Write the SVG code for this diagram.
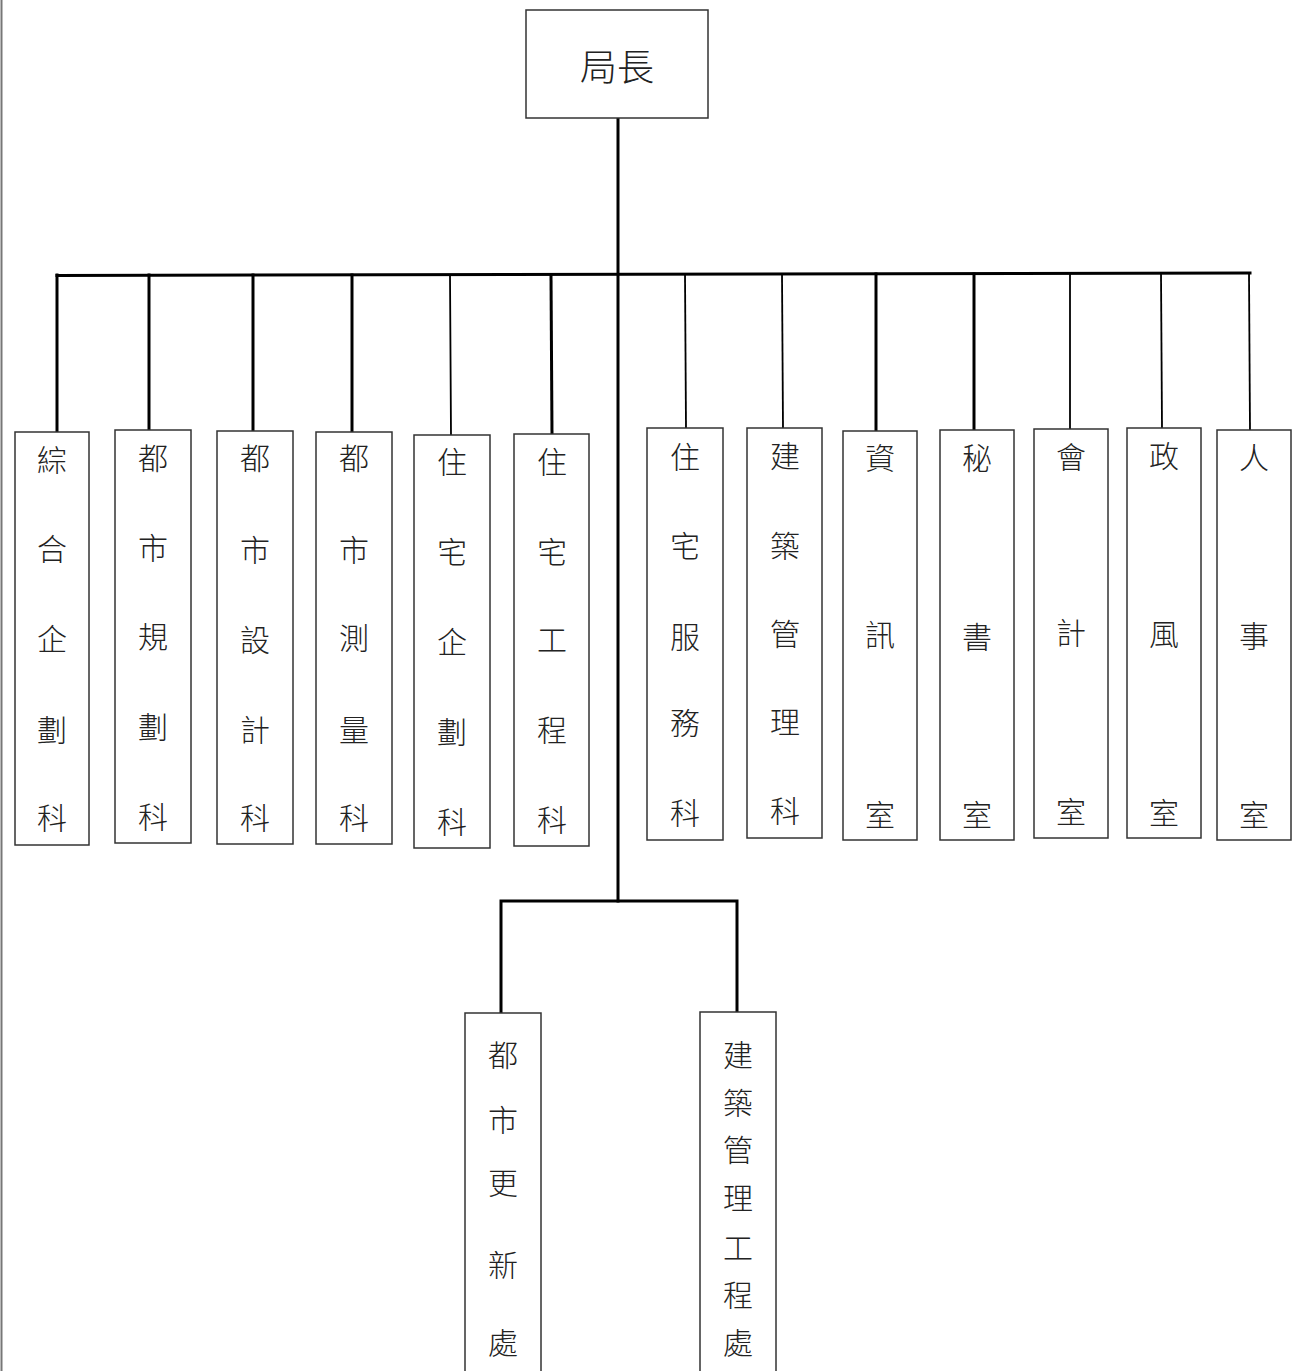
<svg xmlns="http://www.w3.org/2000/svg" width="1295" height="1371" viewBox="0 0 1295 1371">
<style>
.box{fill:#fff;stroke:#333;stroke-width:1.5}
.t{font-family:"Noto Sans CJK TC","Noto Sans CJK SC",sans-serif;font-size:30px;font-weight:300;fill:#222;text-anchor:middle}
.big{font-size:37px}
.c{stroke:#000;fill:none;stroke-linecap:square}
.k{stroke-width:3}
.n{stroke-width:1.8}
</style>
<rect width="1295" height="1371" fill="#fff"/>
<line x1="1.5" y1="0" x2="1.5" y2="1371" stroke="#777" stroke-width="2"/>
<g id="connectors">
<line class="c k" x1="618" y1="118" x2="618" y2="901"/>
<line class="c k" x1="57" y1="275.5" x2="1250" y2="273"/>
<line class="c k" x1="57" y1="275" x2="57" y2="432"/>
<line class="c k" x1="149" y1="275" x2="149" y2="430"/>
<line class="c k" x1="253" y1="275" x2="253" y2="431"/>
<line class="c k" x1="352" y1="275" x2="352" y2="432"/>
<line class="c n" x1="450" y1="275" x2="451" y2="435"/>
<line class="c k" x1="551" y1="275" x2="552" y2="434"/>
<line class="c n" x1="685" y1="274" x2="686" y2="428"/>
<line class="c n" x1="782" y1="274" x2="783" y2="428"/>
<line class="c k" x1="876" y1="274" x2="876" y2="430"/>
<line class="c k" x1="974" y1="274" x2="974" y2="430"/>
<line class="c n" x1="1070" y1="273" x2="1070" y2="429"/>
<line class="c n" x1="1161" y1="273" x2="1162" y2="428"/>
<line class="c n" x1="1249" y1="273" x2="1250" y2="430"/>
<polyline class="c k" points="501,1013 501,901 737,901 737,1012"/>
</g>
<g id="director"><rect class="box" x="526" y="10" width="182" height="108"/><text class="t big" x="617" y="81">局長</text></g>
<g id="n1"><rect class="box" x="15" y="432" width="74" height="413"/><text class="t" x="52"><tspan x="52" y="471">綜</tspan><tspan x="52" y="560">合</tspan><tspan x="52" y="650">企</tspan><tspan x="52" y="741">劃</tspan><tspan x="52" y="829">科</tspan></text></g>
<g id="n2"><rect class="box" x="115" y="430" width="76" height="413"/><text class="t" x="153"><tspan x="153" y="469">都</tspan><tspan x="153" y="559">市</tspan><tspan x="153" y="648">規</tspan><tspan x="153" y="738">劃</tspan><tspan x="153" y="828">科</tspan></text></g>
<g id="n3"><rect class="box" x="217" y="431" width="76" height="413"/><text class="t" x="255"><tspan x="255" y="469">都</tspan><tspan x="255" y="561">市</tspan><tspan x="255" y="651">設</tspan><tspan x="255" y="741">計</tspan><tspan x="255" y="829">科</tspan></text></g>
<g id="n4"><rect class="box" x="316" y="432" width="76" height="412"/><text class="t" x="354"><tspan x="354" y="469">都</tspan><tspan x="354" y="561">市</tspan><tspan x="354" y="649">測</tspan><tspan x="354" y="741">量</tspan><tspan x="354" y="829">科</tspan></text></g>
<g id="n5"><rect class="box" x="414" y="435" width="76" height="413"/><text class="t" x="452"><tspan x="452" y="473">住</tspan><tspan x="452" y="563">宅</tspan><tspan x="452" y="653">企</tspan><tspan x="452" y="743">劃</tspan><tspan x="452" y="833">科</tspan></text></g>
<g id="n6"><rect class="box" x="514" y="434" width="75" height="412"/><text class="t" x="552"><tspan x="552" y="473">住</tspan><tspan x="552" y="563">宅</tspan><tspan x="552" y="651">工</tspan><tspan x="552" y="741">程</tspan><tspan x="552" y="831">科</tspan></text></g>
<g id="n7"><rect class="box" x="647" y="428" width="76" height="412"/><text class="t" x="685"><tspan x="685" y="468">住</tspan><tspan x="685" y="557">宅</tspan><tspan x="685" y="648">服</tspan><tspan x="685" y="734">務</tspan><tspan x="685" y="824">科</tspan></text></g>
<g id="n8"><rect class="box" x="747" y="428" width="75" height="410"/><text class="t" x="785"><tspan x="785" y="467">建</tspan><tspan x="785" y="557">築</tspan><tspan x="785" y="645">管</tspan><tspan x="785" y="733">理</tspan><tspan x="785" y="822">科</tspan></text></g>
<g id="n9"><rect class="box" x="843" y="431" width="74" height="409"/><text class="t" x="880"><tspan x="880" y="469">資</tspan><tspan x="880" y="646">訊</tspan><tspan x="880" y="826">室</tspan></text></g>
<g id="n10"><rect class="box" x="940" y="430" width="74" height="410"/><text class="t" x="977"><tspan x="977" y="469">秘</tspan><tspan x="977" y="648">書</tspan><tspan x="977" y="826">室</tspan></text></g>
<g id="n11"><rect class="box" x="1034" y="429" width="74" height="409"/><text class="t" x="1071"><tspan x="1071" y="468">會</tspan><tspan x="1071" y="644">計</tspan><tspan x="1071" y="823">室</tspan></text></g>
<g id="n12"><rect class="box" x="1127" y="428" width="74" height="410"/><text class="t" x="1164"><tspan x="1164" y="467">政</tspan><tspan x="1164" y="645">風</tspan><tspan x="1164" y="824">室</tspan></text></g>
<g id="n13"><rect class="box" x="1217" y="430" width="74" height="410"/><text class="t" x="1254"><tspan x="1254" y="469">人</tspan><tspan x="1254" y="647">事</tspan><tspan x="1254" y="826">室</tspan></text></g>
<g id="n14"><rect class="box" x="465" y="1013" width="76" height="370"/><text class="t" x="503"><tspan x="503" y="1066">都</tspan><tspan x="503" y="1131">市</tspan><tspan x="503" y="1194">更</tspan><tspan x="503" y="1276">新</tspan><tspan x="503" y="1354">處</tspan></text></g>
<g id="n15"><rect class="box" x="700" y="1012" width="76" height="370"/><text class="t" x="738"><tspan x="738" y="1066">建</tspan><tspan x="738" y="1114">築</tspan><tspan x="738" y="1161">管</tspan><tspan x="738" y="1209">理</tspan><tspan x="738" y="1259">工</tspan><tspan x="738" y="1306">程</tspan><tspan x="738" y="1354">處</tspan></text></g>
</svg>
